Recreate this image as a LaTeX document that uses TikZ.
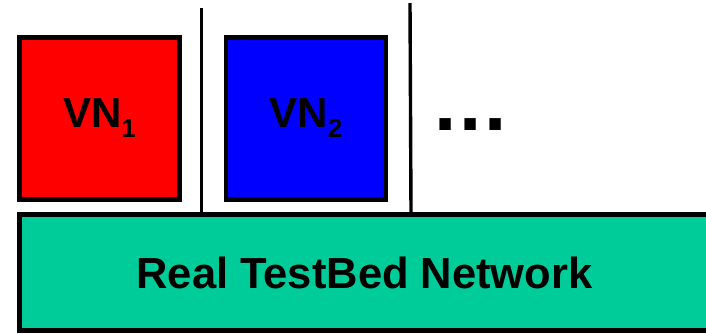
\documentclass[tikz,border=0pt]{standalone}
\usepackage{fontspec}
\setmainfont{Liberation Sans}
\definecolor{vnred}{HTML}{FF0000}
\definecolor{vnblue}{HTML}{0000FF}
\definecolor{netgreen}{HTML}{00CC99}
\newcommand{\vnlabel}[1]{\fontsize{42}{42}\selectfont\bfseries VN\raisebox{-10pt}{\fontsize{26}{26}\selectfont #1}}
\begin{document}
\begin{tikzpicture}[x=1pt,y=-1pt,
  vnbox/.style={draw=black,line width=4.6pt,minimum width=160pt,minimum height=162pt,inner sep=0pt},
  sep/.style={draw=black,line width=3.4pt}]
  \useasboundingbox (0,0) rectangle (706,333);
  % substrate network at the bottom
  \node[draw=black,line width=4.6pt,fill=netgreen,minimum width=690pt,minimum height=116pt,inner sep=0pt,
        font=\fontsize{43.5}{43.5}\selectfont\bfseries] (net) at (364.5,272.5) {\raisebox{-2pt}{Real TestBed Network}};
  % virtual networks
  \node[vnbox,fill=vnred] (vn1) at (99.5,118.5) {\vnlabel{1}};
  \node[vnbox,fill=vnblue] (vn2) at (306,118.5) {\vnlabel{2}};
  \node[anchor=base west,inner sep=0pt,font=\fontsize{80}{80}\selectfont\bfseries] (more) at (434,130) {.\kern2.8pt.\kern2.8pt.};
  % separators between the slices
  \coordinate (s1) at (201.5,8);
  \coordinate (s2) at (410,3);
  \draw[sep] (s1) -- (s1 |- net.north);
  \draw[sep] (s2) -- ([xshift=1pt]s2 |- net.north);
\end{tikzpicture}
\end{document}
